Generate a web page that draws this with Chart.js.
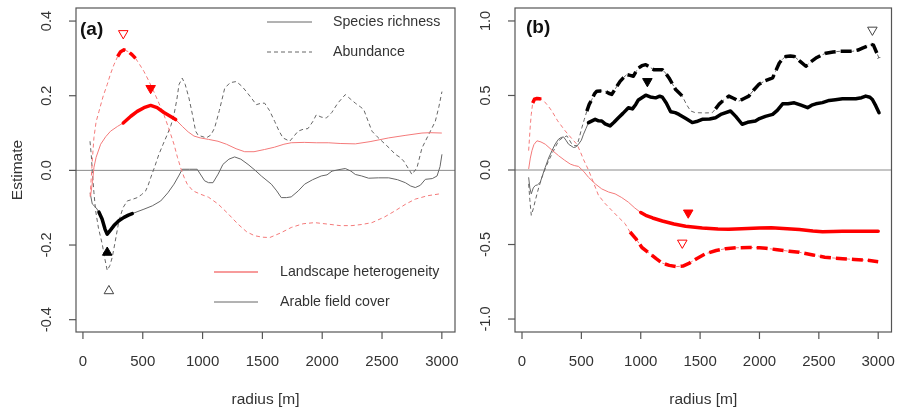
<!DOCTYPE html>
<html>
<head>
<meta charset="utf-8">
<script src="https://cdn.jsdelivr.net/npm/chart.js@4/dist/chart.umd.min.js"></script>
<style>
  html, body { margin: 0; padding: 0; background: #fff; }
  .panel { position: absolute; left: 0; top: 0; width: 898px; height: 412px; }
</style>
</head>
<body>
<div class="panel"><canvas id="chartA"></canvas></div>
<div class="panel"><canvas id="chartB"></canvas></div>
<script>
// tick values / labels
const xTicks = [0, 500, 1000, 1500, 2000, 2500, 3000];
const aYTicks = [-0.4, -0.2, 0, 0.2, 0.4];
const aYLabels = ["-0.4", "-0.2", "0.0", "0.2", "0.4"];
const bYTicks = [-1, -0.5, 0, 0.5, 1];
const bYLabels = ["-1.0", "-0.5", "0.0", "0.5", "1.0"];

// panel (a): [radius, estimate]
const aLandRich = [[64,-0.068],[80,-0.03],[92,0.008],[110,0.035],[148,0.07],[190,0.09],[231,0.105],[290,0.118],[337,0.127],[400,0.145],[454,0.158],[510,0.168],[566,0.174],[620,0.168],[677,0.155],[730,0.145],[775,0.136],[830,0.118],[880,0.103],[928,0.092],[980,0.087],[1050,0.083],[1129,0.078],[1200,0.07],[1280,0.058],[1352,0.05],[1430,0.05],[1519,0.056],[1600,0.062],[1680,0.07],[1741,0.074],[1850,0.075],[1950,0.074],[2050,0.074],[2150,0.072],[2277,0.071],[2400,0.077],[2556,0.087],[2700,0.094],[2834,0.1],[2900,0.101],[3000,0.1]];
const aLandAbun = [[60,-0.07],[78,0.025],[92,0.088],[110,0.13],[134,0.158],[170,0.2],[203,0.23],[230,0.258],[259,0.283],[290,0.305],[315,0.318],[343,0.323],[380,0.318],[410,0.31],[440,0.3],[475,0.283],[510,0.265],[550,0.24],[594,0.21],[635,0.18],[677,0.149],[720,0.11],[761,0.07],[790,0.035],[817,0.007],[845,-0.018],[872,-0.037],[920,-0.055],[984,-0.064],[1050,-0.072],[1129,-0.09],[1210,-0.115],[1296,-0.144],[1370,-0.165],[1435,-0.175],[1500,-0.179],[1561,-0.18],[1650,-0.168],[1741,-0.153],[1840,-0.143],[1937,-0.14],[2048,-0.144],[2150,-0.148],[2249,-0.148],[2330,-0.145],[2416,-0.14],[2520,-0.125],[2611,-0.108],[2700,-0.09],[2778,-0.077],[2880,-0.068],[3000,-0.062]];
const aArabRich = [[60,-0.06],[78,-0.09],[110,-0.1],[134,-0.112],[160,-0.13],[185,-0.158],[203,-0.171],[230,-0.16],[259,-0.148],[300,-0.135],[343,-0.126],[380,-0.12],[412,-0.116],[460,-0.11],[510,-0.104],[580,-0.095],[650,-0.082],[710,-0.06],[761,-0.037],[800,-0.015],[830,0.003],[890,0.003],[955,0.003],[1017,-0.028],[1050,-0.033],[1087,-0.033],[1130,-0.01],[1170,0.016],[1220,0.03],[1268,0.036],[1320,0.03],[1380,0.016],[1440,0.0],[1491,-0.015],[1575,-0.037],[1620,-0.055],[1658,-0.073],[1700,-0.073],[1741,-0.071],[1800,-0.055],[1853,-0.037],[1920,-0.025],[1992,-0.015],[2040,-0.012],[2082,-0.002],[2140,0.002],[2193,0.005],[2240,-0.002],[2277,-0.011],[2330,-0.015],[2388,-0.021],[2470,-0.02],[2556,-0.02],[2630,-0.025],[2695,-0.033],[2740,-0.042],[2778,-0.046],[2820,-0.04],[2862,-0.024],[2920,-0.022],[2960,-0.015],[2985,0.01],[3001,0.043]];
const aArabAbun = [[59,0.078],[70,0.04],[78,-0.002],[92,-0.06],[106,-0.108],[130,-0.155],[161,-0.197],[185,-0.24],[203,-0.268],[225,-0.255],[245,-0.233],[270,-0.19],[301,-0.135],[335,-0.1],[370,-0.082],[410,-0.078],[454,-0.073],[490,-0.065],[524,-0.055],[545,-0.04],[566,-0.02],[600,0.01],[635,0.043],[670,0.07],[705,0.096],[735,0.12],[761,0.149],[785,0.19],[803,0.23],[830,0.247],[855,0.23],[886,0.194],[915,0.15],[942,0.105],[961,0.095],[984,0.092],[1031,0.087],[1070,0.095],[1101,0.114],[1140,0.16],[1185,0.22],[1230,0.235],[1282,0.238],[1330,0.225],[1366,0.211],[1410,0.193],[1449,0.176],[1490,0.18],[1519,0.18],[1560,0.16],[1603,0.131],[1640,0.105],[1672,0.087],[1728,0.078],[1760,0.09],[1798,0.105],[1840,0.11],[1881,0.112],[1920,0.13],[1951,0.149],[1990,0.143],[2034,0.14],[2080,0.155],[2130,0.18],[2193,0.203],[2240,0.19],[2277,0.18],[2320,0.17],[2347,0.163],[2380,0.135],[2416,0.105],[2460,0.09],[2500,0.078],[2560,0.06],[2611,0.043],[2650,0.035],[2681,0.025],[2720,0.005],[2750,-0.011],[2792,0.007],[2834,0.06],[2890,0.096],[2945,0.131],[2975,0.17],[3001,0.211]];
// significant ranges (radius from, to)
const aLandRichSig = [[337, 775]];
const aLandAbunSig = [[290, 440]];
const aArabRichSig = [[134, 412]];
const aArabAbunSig = [];
// best radius markers: [radius, estimate]
const aLandRichBest = [566, 0.22];
const aLandAbunBest = [337, 0.367];
const aArabRichBest = [203, -0.22];
const aArabAbunBest = [217, -0.323];

// panel (b)
const bLandRich = [[56,0.007],[70,0.08],[84,0.13],[100,0.17],[126,0.196],[160,0.188],[196,0.173],[250,0.135],[308,0.096],[360,0.065],[406,0.04],[440,0.03],[476,0.024],[520,-0.01],[560,-0.049],[620,-0.095],[672,-0.127],[730,-0.148],[784,-0.16],[840,-0.185],[896,-0.216],[950,-0.255],[1000,-0.285],[1042,-0.304],[1100,-0.322],[1182,-0.342],[1280,-0.362],[1378,-0.378],[1518,-0.389],[1650,-0.396],[1741,-0.398],[1850,-0.395],[2000,-0.39],[2100,-0.388],[2200,-0.392],[2335,-0.4],[2450,-0.41],[2531,-0.414],[2620,-0.413],[2699,-0.411],[2850,-0.411],[3000,-0.411]];
const bLandAbun = [[56,0.13],[70,0.3],[78,0.373],[90,0.45],[105,0.475],[126,0.48],[150,0.478],[182,0.465],[220,0.43],[252,0.395],[300,0.33],[364,0.262],[420,0.21],[462,0.173],[490,0.125],[518,0.07],[560,0.0],[590,-0.06],[644,-0.17],[700,-0.225],[756,-0.271],[810,-0.315],[868,-0.36],[910,-0.416],[958,-0.46],[1010,-0.52],[1075,-0.56],[1130,-0.595],[1182,-0.625],[1240,-0.64],[1300,-0.648],[1355,-0.645],[1406,-0.627],[1470,-0.595],[1546,-0.562],[1635,-0.54],[1714,-0.528],[1800,-0.522],[1915,-0.52],[2000,-0.522],[2055,-0.525],[2150,-0.535],[2250,-0.545],[2335,-0.552],[2450,-0.57],[2550,-0.585],[2615,-0.59],[2700,-0.595],[2800,-0.6],[2900,-0.605],[3000,-0.615]];
const bArabRich = [[56,-0.049],[66,-0.12],[78,-0.16],[95,-0.12],[112,-0.104],[130,-0.1],[154,-0.082],[175,-0.03],[196,0.018],[224,0.08],[252,0.129],[280,0.175],[308,0.207],[330,0.218],[350,0.222],[370,0.2],[392,0.173],[434,0.151],[455,0.155],[476,0.173],[500,0.2],[518,0.24],[540,0.28],[560,0.318],[590,0.33],[616,0.34],[645,0.33],[672,0.329],[700,0.31],[742,0.296],[775,0.32],[812,0.351],[850,0.38],[896,0.418],[930,0.41],[958,0.44],[980,0.47],[1042,0.502],[1080,0.49],[1126,0.484],[1160,0.495],[1182,0.489],[1215,0.45],[1252,0.391],[1290,0.385],[1322,0.373],[1380,0.345],[1434,0.318],[1470,0.325],[1518,0.34],[1580,0.342],[1630,0.351],[1680,0.375],[1756,0.396],[1800,0.36],[1854,0.307],[1900,0.32],[1966,0.329],[2000,0.345],[2050,0.36],[2111,0.373],[2150,0.4],[2195,0.444],[2240,0.445],[2293,0.451],[2350,0.435],[2405,0.418],[2440,0.435],[2475,0.444],[2530,0.452],[2587,0.467],[2640,0.472],[2699,0.478],[2760,0.478],[2811,0.478],[2860,0.485],[2895,0.496],[2930,0.488],[2951,0.473],[2980,0.43],[3007,0.384]];
const bArabAbun = [[56,-0.093],[66,-0.2],[78,-0.304],[95,-0.26],[112,-0.204],[140,-0.12],[168,-0.049],[196,0.01],[224,0.062],[260,0.12],[308,0.196],[340,0.215],[378,0.229],[400,0.2],[420,0.173],[440,0.165],[462,0.162],[480,0.21],[504,0.284],[525,0.34],[546,0.395],[566,0.44],[588,0.473],[610,0.51],[630,0.529],[665,0.53],[700,0.529],[730,0.515],[756,0.507],[790,0.55],[826,0.595],[855,0.62],[882,0.64],[910,0.635],[938,0.629],[960,0.66],[980,0.684],[1010,0.7],[1042,0.707],[1075,0.69],[1111,0.673],[1150,0.672],[1182,0.673],[1210,0.65],[1238,0.618],[1265,0.58],[1294,0.54],[1320,0.52],[1350,0.496],[1385,0.44],[1420,0.396],[1455,0.386],[1490,0.384],[1545,0.383],[1602,0.384],[1630,0.41],[1658,0.44],[1700,0.47],[1742,0.496],[1785,0.48],[1826,0.462],[1870,0.48],[1910,0.496],[1950,0.535],[1993,0.573],[2050,0.6],[2111,0.618],[2140,0.67],[2167,0.718],[2195,0.745],[2223,0.762],[2260,0.765],[2293,0.762],[2340,0.73],[2391,0.696],[2430,0.725],[2475,0.751],[2520,0.77],[2559,0.784],[2620,0.792],[2671,0.796],[2730,0.796],[2783,0.796],[2830,0.805],[2867,0.818],[2905,0.83],[2937,0.844],[2960,0.838],[2980,0.8],[3007,0.751]];
const bLandRichSig = [[1000, 3000]];
const bLandAbunSig = [[90, 182], [910, 3000]];
const bArabRichSig = [[560, 3007]];
const bArabAbunSig = [[546, 1350], [1630, 3007]];
const bLandRichBest = [1400, -0.287];
const bLandAbunBest = [1350, -0.489];
const bArabRichBest = [1056, 0.595];
const bArabAbunBest = [2951, 0.94];

const RED_THIN = "#f47a7a";
const RED = "#ff0000";
const GREY = "#666666";
const BLACK = "#000000";
const FONT = "'Liberation Sans', Arial, sans-serif";

function pts(arr) {
  return arr.map((p) => ({ x: p[0], y: p[1] }));
}

// one thin line for the whole series, thick overlays where significant
function seriesSets(arr, sigRanges, thinColor, thickColor, dashed) {
  const sets = [{
    data: pts(arr),
    borderColor: thinColor,
    borderWidth: 1,
    borderDash: dashed ? [4, 3] : [],
    order: 3,
  }];
  sigRanges.forEach((r) => {
    sets.push({
      data: pts(arr.filter((p) => p[0] >= r[0] && p[0] <= r[1])),
      borderColor: thickColor,
      borderWidth: 3.5,
      borderDash: dashed ? [11, 5] : [],
      borderCapStyle: dashed ? "butt" : "round",
      borderJoinStyle: "round",
      order: 2,
    });
  });
  return sets;
}

function marker(best, color, filled, up) {
  return {
    type: "scatter",
    data: [{ x: best[0], y: best[1] }],
    pointStyle: "triangle",
    rotation: up ? 0 : 180,
    pointRadius: 5.5,
    borderWidth: 1,
    borderColor: color,
    backgroundColor: filled ? color : "#ffffff",
    order: 1,
  };
}

function framePlugin(yTicks, yLabels, extras) {
  return {
    id: "frame",
    beforeDatasetsDraw(chart) {
      const { ctx, chartArea: a, scales } = chart;
      const y0 = scales.y.getPixelForValue(0);
      ctx.save();
      ctx.strokeStyle = "#8a8a8a";
      ctx.lineWidth = 1;
      ctx.beginPath();
      ctx.moveTo(a.left, y0);
      ctx.lineTo(a.right, y0);
      ctx.stroke();
      ctx.restore();
    },
    afterDraw(chart) {
      const { ctx, chartArea: a, scales } = chart;
      ctx.save();
      ctx.strokeStyle = "#555";
      ctx.lineWidth = 1.2;
      ctx.strokeRect(a.left, a.top, a.right - a.left, a.bottom - a.top);
      ctx.fillStyle = "#333";
      ctx.font = "15px " + FONT;
      ctx.textAlign = "center";
      ctx.textBaseline = "middle";
      xTicks.forEach((v) => {
        const px = scales.x.getPixelForValue(v);
        ctx.beginPath();
        ctx.moveTo(px, a.bottom);
        ctx.lineTo(px, a.bottom + 7);
        ctx.stroke();
        ctx.fillText(String(v), px, a.bottom + 30);
      });
      ctx.font = "14.5px " + FONT;
      yTicks.forEach((v, i) => {
        const py = scales.y.getPixelForValue(v);
        ctx.beginPath();
        ctx.moveTo(a.left - 7, py);
        ctx.lineTo(a.left, py);
        ctx.stroke();
        ctx.save();
        ctx.translate(a.left - 29, py);
        ctx.rotate(-Math.PI / 2);
        ctx.fillText(yLabels[i], 0, 0);
        ctx.restore();
      });
      ctx.font = "15.5px " + FONT;
      ctx.fillText("radius [m]", (a.left + a.right) / 2, 400);
      extras(ctx, a);
      ctx.restore();
    },
  };
}

function legendLine(ctx, x1, x2, y, color, width, dash) {
  ctx.save();
  ctx.strokeStyle = color;
  ctx.lineWidth = width;
  ctx.setLineDash(dash);
  ctx.beginPath();
  ctx.moveTo(x1, y);
  ctx.lineTo(x2, y);
  ctx.stroke();
  ctx.restore();
}

function makeChart(id, padding, xRange, yRange, datasets, plugin) {
  return new Chart(document.getElementById(id), {
    type: "line",
    data: { datasets: datasets },
    options: {
      responsive: true,
      maintainAspectRatio: false,
      animation: false,
      layout: { padding: padding },
      elements: { point: { radius: 0 }, line: { tension: 0 } },
      scales: {
        x: { type: "linear", min: xRange[0], max: xRange[1], display: false },
        y: { type: "linear", min: yRange[0], max: yRange[1], display: false },
      },
      plugins: { legend: { display: false }, tooltip: { enabled: false } },
    },
    plugins: [plugin],
  });
}

const aSets = [].concat(
  seriesSets(aLandRich, aLandRichSig, RED_THIN, RED, false),
  seriesSets(aLandAbun, aLandAbunSig, RED_THIN, RED, true),
  seriesSets(aArabRich, aArabRichSig, GREY, BLACK, false),
  seriesSets(aArabAbun, aArabAbunSig, GREY, BLACK, true),
  [
    marker(aLandRichBest, RED, true, false),
    marker(aLandAbunBest, RED, false, false),
    marker(aArabRichBest, BLACK, true, true),
    marker(aArabAbunBest, "#444", false, true),
  ]
);

makeChart("chartA", { left: 76, top: 8, right: 443, bottom: 80 }, [-58, 3110], [-0.433, 0.435], aSets,
  framePlugin(aYTicks, aYLabels, (ctx, a) => {
    ctx.save();
    ctx.translate(18, (a.top + a.bottom) / 2);
    ctx.rotate(-Math.PI / 2);
    ctx.font = "15.5px " + FONT;
    ctx.fillText("Estimate", 0, 0);
    ctx.restore();
    ctx.font = "bold 19px " + FONT;
    ctx.textAlign = "left";
    ctx.fillStyle = "#111";
    ctx.fillText("(a)", 80, 30);
    ctx.font = "14.2px " + FONT;
    ctx.fillStyle = "#333";
    legendLine(ctx, 267, 312, 22, GREY, 1, []);
    ctx.fillText("Species richness", 333, 22);
    legendLine(ctx, 267, 312, 52, GREY, 1, [4, 3]);
    ctx.fillText("Abundance", 333, 52);
    legendLine(ctx, 214, 258, 272, RED_THIN, 1.5, []);
    ctx.fillText("Landscape heterogeneity", 280, 272);
    legendLine(ctx, 214, 258, 302, GREY, 1, []);
    ctx.fillText("Arable field cover", 280, 302);
  }));

const bSets = [].concat(
  seriesSets(bLandRich, bLandRichSig, RED_THIN, RED, false),
  seriesSets(bLandAbun, bLandAbunSig, RED_THIN, RED, true),
  seriesSets(bArabRich, bArabRichSig, GREY, BLACK, false),
  seriesSets(bArabAbun, bArabAbunSig, GREY, BLACK, true),
  [
    marker(bLandRichBest, RED, true, false),
    marker(bLandAbunBest, RED, false, false),
    marker(bArabRichBest, BLACK, true, false),
    marker(bArabAbunBest, "#444", false, false),
  ]
);

makeChart("chartB", { left: 515, top: 8, right: 5, bottom: 80 }, [-59, 3112], [-1.087, 1.087], bSets,
  framePlugin(bYTicks, bYLabels, (ctx) => {
    ctx.font = "bold 19px " + FONT;
    ctx.textAlign = "left";
    ctx.fillStyle = "#111";
    ctx.fillText("(b)", 526, 28);
  }));
</script>
</body>
</html>
